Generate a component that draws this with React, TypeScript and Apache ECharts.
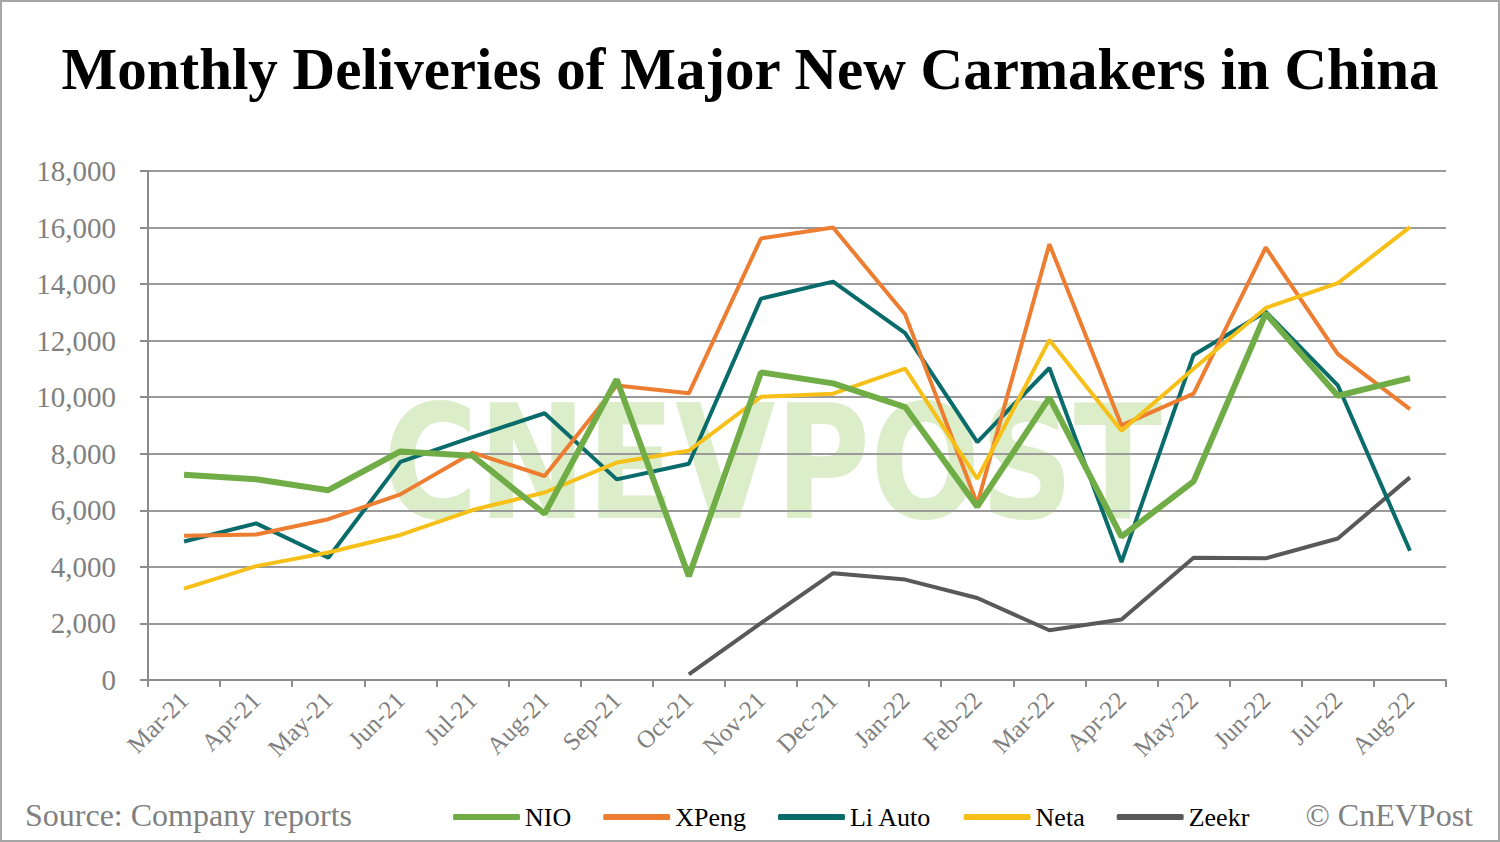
import React, { useEffect, useRef } from "react";
import * as echarts from "echarts";

const months = ["Mar-21","Apr-21","May-21","Jun-21","Jul-21","Aug-21","Sep-21","Oct-21","Nov-21","Dec-21","Jan-22","Feb-22","Mar-22","Apr-22","May-22","Jun-22","Jul-22","Aug-22"];
const nio = [7257,7102,6711,8083,7931,5880,10628,3667,10878,10489,9652,6131,9985,5074,7024,12961,10052,10677];
const xpeng = [5102,5147,5686,6565,8040,7214,10412,10138,15613,16000,12922,6225,15414,9002,10125,15295,11524,9578];
const liAuto = [4900,5539,4323,7713,8589,9433,7094,7649,13485,14087,12268,8414,11034,4167,11496,13024,10422,4571];
const neta = [3229,4027,4508,5130,6011,6630,7690,8107,10013,10127,11009,7117,12026,8813,11009,13157,14037,16017];
const zeekr: (number | null)[] = [null,null,null,null,null,null,null,200,2012,3776,3551,2900,1759,2137,4320,4302,5003,7166];

const serif = "'Liberation Serif', 'Times New Roman', serif";

export default function App() {
  const ref = useRef<HTMLDivElement>(null);
  useEffect(() => {
    if (!ref.current) return;
    const chart = echarts.init(ref.current, null, { renderer: "svg" });
    const mk = (name: string, data: (number | null)[], color: string, width: number, z: number) => ({
      name, type: "line", data, symbol: "none", z,
      lineStyle: { color, width }, itemStyle: { color },
    });
    chart.setOption({
      animation: false,
      backgroundColor: "#fff",
      title: {
        text: "Monthly Deliveries of Major New Carmakers in China",
        left: "center", top: 34,
        textStyle: { fontFamily: serif, fontWeight: "bold", fontSize: 59, color: "#000" },
      },
      graphic: [
        {
          type: "text", left: 383, top: 384, z: 0, silent: true,
          style: {
            text: "CNEVPOST", fill: "#dcedca",
            font: "bold 158px 'DejaVu Sans', sans-serif",
          },
          scaleX: 0.82, scaleY: 1.0,
        },
        {
          type: "text", left: 25, top: 799,
          style: { text: "Source: Company reports", fill: "#808080", font: `32px ${serif}` },
        },
        {
          type: "text", right: 27, top: 799,
          style: { text: "© CnEVPost", fill: "#808080", font: `32px ${serif}` },
        },
      ],
      grid: { left: 148, right: 54, top: 171, bottom: 162 },
      legend: {
        left: 448, top: 799, itemWidth: 67, itemHeight: 6, itemGap: 32, icon: "roundRect",
        textStyle: { fontFamily: serif, fontSize: 26, color: "#000" },
        data: ["NIO", "XPeng", "Li Auto", "Neta", "Zeekr"],
      },
      xAxis: {
        type: "category", data: months, boundaryGap: true,
        axisLine: { lineStyle: { color: "#8c8c8c", width: 2 } },
        axisTick: { show: true, length: 7, lineStyle: { color: "#8c8c8c", width: 2 } },
        axisLabel: { rotate: 45, fontFamily: serif, fontSize: 25, color: "#808080", margin: 16 },
      },
      yAxis: {
        type: "value", min: 0, max: 18000, interval: 2000,
        axisLine: { show: true, lineStyle: { color: "#8c8c8c", width: 2 } },
        axisTick: { show: true, length: 8, lineStyle: { color: "#8c8c8c", width: 2 } },
        splitLine: { lineStyle: { color: "#9a9a9a", width: 2 } },
        axisLabel: {
          fontFamily: serif, fontSize: 29, color: "#808080", margin: 32,
          formatter: (v: number) => v.toLocaleString("en-US"),
        },
      },
      series: [
        mk("Zeekr", zeekr, "#595959", 4, 3),
        mk("Li Auto", liAuto, "#0a6c6a", 4, 4),
        mk("XPeng", xpeng, "#ed7d31", 4, 5),
        mk("Neta", neta, "#f6c018", 4, 6),
        mk("NIO", nio, "#70ad47", 6, 7),
      ],
    });
    return () => chart.dispose();
  }, []);
  return (
    <div style={{ position: "absolute", left: 0, top: 0, width: 1500, height: 842, background: "#fff" }}>
      <div ref={ref} style={{ position: "absolute", left: 0, top: 0, width: 1500, height: 842 }} />
      <div style={{ position: "absolute", left: 0, top: 0, width: 1500, height: 842, boxSizing: "border-box", border: "2px solid #a6a6a6", pointerEvents: "none" }} />
    </div>
  );
}
